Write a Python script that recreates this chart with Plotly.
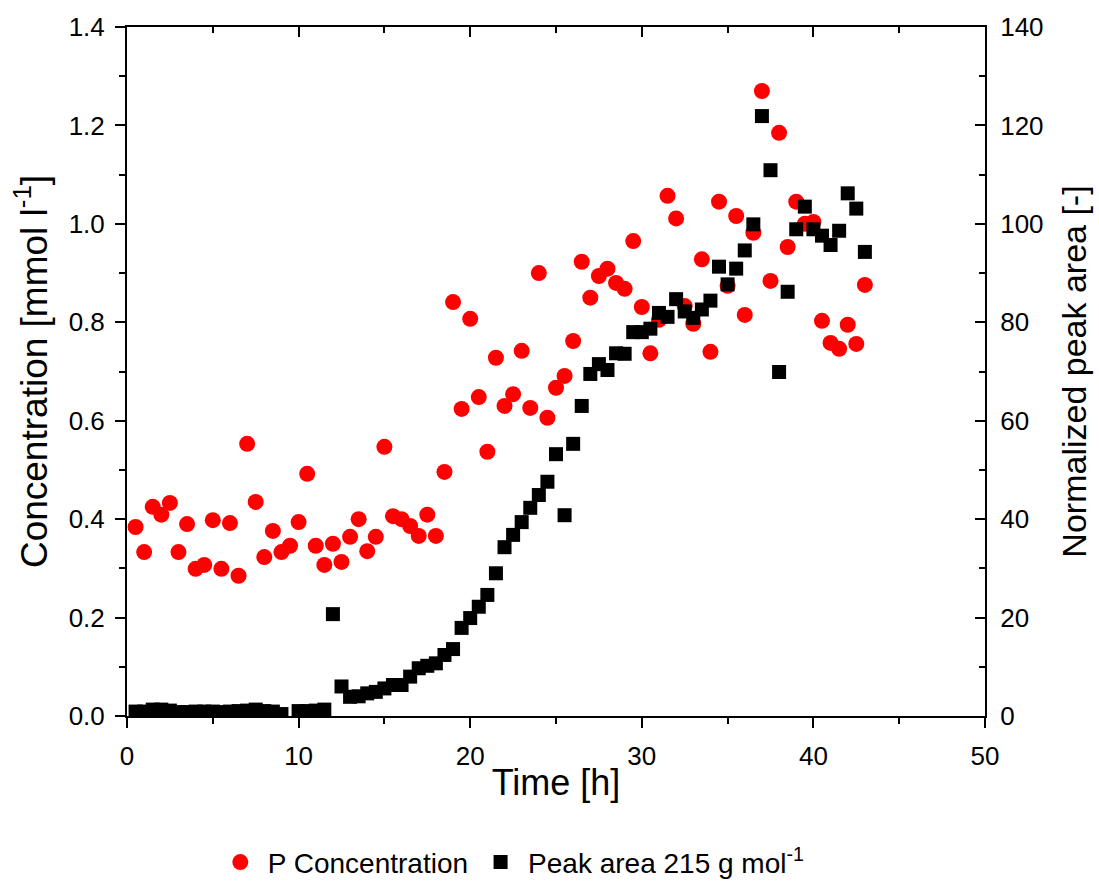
import plotly.graph_objects as go

# Time points (h)
time = [0.5, 1, 1.5, 2, 2.5, 3, 3.5, 4, 4.5, 5, 5.5, 6, 6.5, 7, 7.5, 8, 8.5, 9, 9.5, 10,
        10.5, 11, 11.5, 12, 12.5, 13, 13.5, 14, 14.5, 15, 15.5, 16, 16.5, 17, 17.5, 18, 18.5, 19, 19.5, 20,
        20.5, 21, 21.5, 22, 22.5, 23, 23.5, 24, 24.5, 25, 25.5, 26, 26.5, 27, 27.5, 28, 28.5, 29, 29.5, 30,
        30.5, 31, 31.5, 32, 32.5, 33, 33.5, 34, 34.5, 35, 35.5, 36, 36.5, 37, 37.5, 38, 38.5, 39, 39.5, 40,
        40.5, 41, 41.5, 42, 42.5, 43]

# P concentration (mmol l-1)
p_conc = [0.384, 0.333, 0.425, 0.409, 0.433, 0.333, 0.390, 0.299, 0.307, 0.398,
          0.299, 0.392, 0.285, 0.553, 0.435, 0.323, 0.376, 0.333, 0.346, 0.394,
          0.492, 0.346, 0.307, 0.350, 0.313, 0.364, 0.400, 0.335, 0.364, 0.547,
          0.406, 0.400, 0.386, 0.366, 0.409, 0.366, 0.496, 0.841, 0.624, 0.807,
          0.648, 0.537, 0.728, 0.630, 0.654, 0.742, 0.626, 0.900, 0.606, 0.667,
          0.691, 0.762, 0.923, 0.850, 0.894, 0.909, 0.880, 0.868, 0.965, 0.831,
          0.737, 0.805, 1.057, 1.011, 0.833, 0.797, 0.928, 0.740, 1.045, 0.874,
          1.016, 0.815, 0.982, 1.270, 0.884, 1.185, 0.953, 1.045, 1.000, 1.004,
          0.803, 0.758, 0.746, 0.795, 0.756, 0.876]

# Normalized peak area 215 g mol-1 (-)
peak_area = [0.9, 0.9, 1.3, 1.3, 1.1, 0.8, 0.8, 0.9, 0.9, 0.9,
             0.8, 0.9, 1.0, 1.1, 1.3, 1.0, 0.9, 0.4, None, 1.0,
             1.0, 1.1, 1.3, 20.7, 6.0, 3.9, 4.0, 4.6, 4.9, 5.6,
             6.3, 6.3, 8.0, 9.7, 10.2, 10.7, 12.4, 13.6, 17.9, 19.9,
             22.2, 24.6, 29.0, 34.3, 36.8, 39.4, 42.3, 44.9, 47.6, 53.2,
             40.8, 55.3, 63.0, 69.5, 71.5, 70.3, 73.7, 73.6, 78.0, 78.0,
             78.7, 81.9, 81.1, 84.7, 82.2, 80.9, 82.6, 84.4, 91.3, 87.7,
             90.9, 94.6, 99.9, 121.9, 110.9, 69.9, 86.2, 98.9, 103.5, 98.9,
             97.6, 95.7, 98.6, 106.2, 103.1, 94.3]

x_ticks = [0, 10, 20, 30, 40, 50]
y_ticks = [0, 0.2, 0.4, 0.6, 0.8, 1.0, 1.2, 1.4]
y_ticklabels = ["0.0", "0.2", "0.4", "0.6", "0.8", "1.0", "1.2", "1.4"]
y2_ticks = [0, 20, 40, 60, 80, 100, 120, 140]

FONT = "Liberation Sans, Arial, sans-serif"

fig = go.Figure()
fig.add_trace(go.Scatter(
    x=time, y=p_conc, mode="markers", name="P Concentration",
    marker=dict(symbol="circle", size=16, color="#ff0000", line=dict(width=0)),
    yaxis="y", xaxis="x"))
fig.add_trace(go.Scatter(
    x=time, y=peak_area, mode="markers", name="Peak area 215 g mol<sup>-1</sup>",
    marker=dict(symbol="square", size=14, color="#000000", line=dict(width=0)),
    yaxis="y2", xaxis="x"))
# invisible trace to activate the top frame axis
fig.add_trace(go.Scatter(x=[None], y=[None], xaxis="x2", yaxis="y",
                         showlegend=False, hoverinfo="skip"))

axis_common = dict(showgrid=False, zeroline=False, showline=True, linecolor="black",
                   linewidth=2, tickcolor="black", tickwidth=2,
                   tickfont=dict(family=FONT, size=26, color="black"))

fig.update_layout(
    width=1099, height=890,
    margin=dict(l=127, r=114, t=27, b=174, autoexpand=False),
    paper_bgcolor="white", plot_bgcolor="white",
    showlegend=True,
    legend=dict(orientation="h", x=0.1, xanchor="left",
                yref="container", y=0.031, yanchor="middle",
                font=dict(family=FONT, size=28, color="black"), bgcolor="rgba(0,0,0,0)",
                itemwidth=45),
    xaxis=dict(range=[0, 50], tickvals=x_ticks, ticks="outside", ticklen=10,
               ticklabelstandoff=6,
               minor=dict(dtick=5, ticks="outside", ticklen=6, tickwidth=2, tickcolor="black"),
               title=dict(text="Time [h]", font=dict(family=FONT, size=36, color="black"), standoff=0),
               **axis_common),
    xaxis2=dict(range=[0, 50], overlaying="x", side="top", tickvals=x_ticks,
                ticks="inside", ticklen=10, showticklabels=False,
                minor=dict(dtick=5, ticks="inside", ticklen=6, tickwidth=2, tickcolor="black"),
                **axis_common),
    yaxis=dict(range=[0, 1.4], tickvals=y_ticks, ticktext=y_ticklabels,
               ticks="outside", ticklen=10, ticklabelstandoff=5,
               minor=dict(dtick=0.1, ticks="outside", ticklen=6, tickwidth=2, tickcolor="black"),
               title=dict(text="Concentration [mmol l<sup>-1</sup>]",
                          font=dict(family=FONT, size=37, color="black"), standoff=10),
               **axis_common),
    yaxis2=dict(range=[0, 140], overlaying="y", side="right", tickvals=y2_ticks,
                ticks="inside", ticklen=10, ticklabelstandoff=8,
                minor=dict(dtick=10, ticks="inside", ticklen=6, tickwidth=2, tickcolor="black"),
                title=dict(text="Normalized peak area [-]",
                           font=dict(family=FONT, size=34, color="black"), standoff=20),
                **axis_common),
)

fig.write_html("out.html")
